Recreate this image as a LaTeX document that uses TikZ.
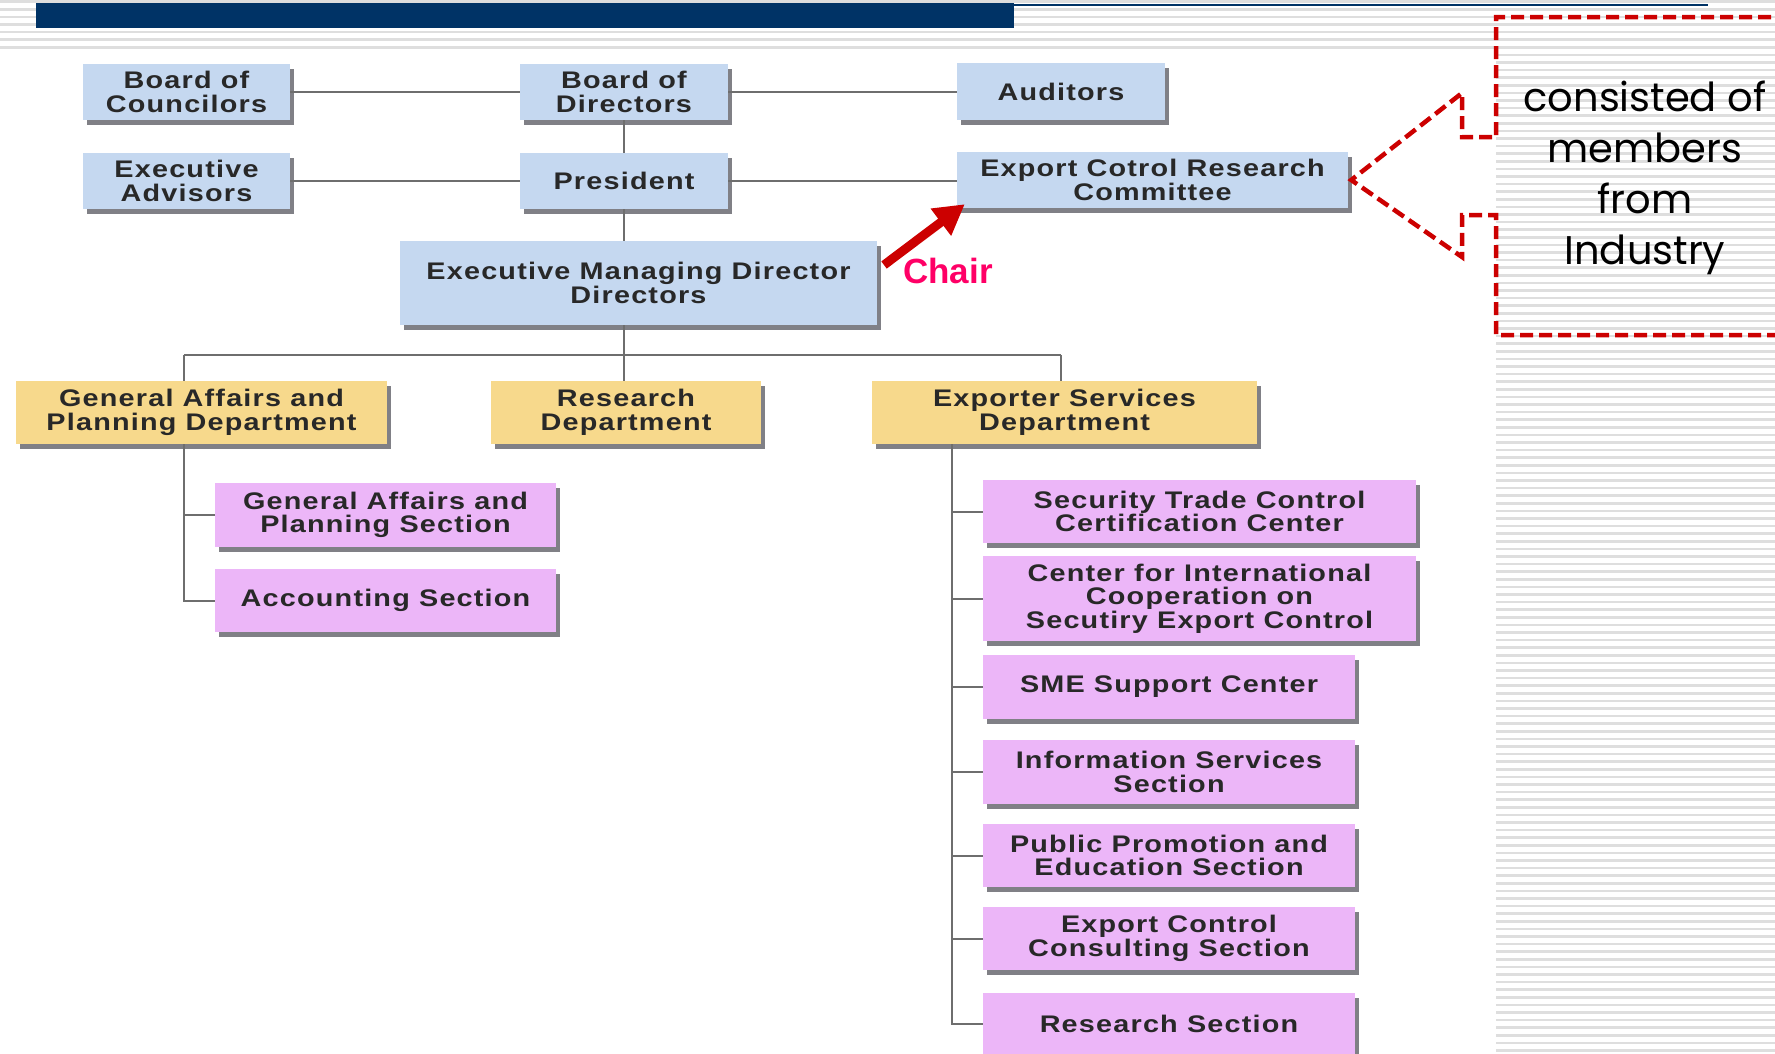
\documentclass[tikz,border=0pt]{standalone}
\usepackage{fontspec}
\setmainfont{Liberation Sans}
\newfontfamily\boxff[FakeStretch=1.2,LetterSpace=5]{Liberation Sans}
\newfontfamily\callff{Poppins}
\usetikzlibrary{arrows.meta}
\definecolor{navy}{RGB}{0,51,102}
\definecolor{boxblue}{RGB}{197,216,240}
\definecolor{boxyel}{RGB}{247,217,140}
\definecolor{boxpink}{RGB}{236,182,248}
\definecolor{shadowc}{RGB}{128,128,134}
\definecolor{linec}{RGB}{110,110,110}
\definecolor{calred}{RGB}{204,0,0}
\definecolor{chairc}{RGB}{255,0,102}
\definecolor{stripec}{RGB}{222,222,222}
\definecolor{txtc}{RGB}{40,40,40}
\tikzset{
  box/.style={inner sep=0pt, align=center, text=txtc,
    font=\boxff\bfseries\fontsize{24}{23.5}\selectfont,
    preaction={fill=shadowc, transform canvas={xshift=3.5pt,yshift=-4.5pt}}},
  bluebox/.style={box, fill=boxblue},
  yelbox/.style={box, fill=boxyel},
  pinkbox/.style={box, fill=boxpink},
  conn/.style={draw=linec, line width=2pt},
  stripe/.style={draw=stripec, line width=2.6pt},
  callout/.style={draw=calred, line width=4.5pt, dash pattern=on 13pt off 6pt},
}
\begin{document}
\begin{tikzpicture}[x=1pt,y=-1pt]
\useasboundingbox (0,0) rectangle (1775,1053);
\clip (0,0) rectangle (1775,1053);
% background stripes
\foreach \k in {0,...,6} \draw[stripe] (0,1.6+\k*7.6) -- (1775,1.6+\k*7.6);
\foreach \k in {7,...,138} \draw[stripe] (1496,1.6+\k*7.6) -- (1775,1.6+\k*7.6);
% title bar
\fill[navy] (36,3) rectangle (1014,27.5);
\draw[navy, line width=2pt] (1014,4.5) -- (1708,4.5);

% top rows
\node[bluebox, minimum width=207pt, minimum height=56pt] (boc) at (186.5,92) {Board of\\Councilors};
\node[bluebox, minimum width=208pt, minimum height=56pt] (bod) at (624,92) {Board of\\Directors};
\node[bluebox, minimum width=208pt, minimum height=57pt] (aud) at (1061,91.5) {Auditors};
\node[bluebox, minimum width=207pt, minimum height=56pt] (ea) at (186.5,181) {Executive\\Advisors};
\node[bluebox, minimum width=208pt, minimum height=56pt] (pres) at (624,181) {President};
\node[bluebox, minimum width=391pt, minimum height=56pt] (ecrc) at (1152.5,180) {Export Cotrol Research\\Committee};
\node[bluebox, minimum width=477pt, minimum height=84pt] (emd) at (638.5,283) {Executive Managing Director\\Directors};

% departments
\node[yelbox, minimum width=371pt, minimum height=63pt] (gapd) at (201.5,412.5) {General Affairs and\\Planning Department};
\node[yelbox, minimum width=270pt, minimum height=63pt] (rd) at (626,412.5) {Research\\Department};
\node[yelbox, minimum width=385pt, minimum height=63pt] (esd) at (1064.5,412.5) {Exporter Services\\Department};

% sections
\node[pinkbox, minimum width=341pt, minimum height=64pt] (gaps) at (385.5,515) {General Affairs and\\Planning Section};
\node[pinkbox, minimum width=341pt, minimum height=63pt] (acc) at (385.5,600.5) {Accounting Section};
\node[pinkbox, minimum width=433pt, minimum height=63pt] (stcc) at (1199.5,511.5) {Security Trade Control\\Certification Center};
\node[pinkbox, minimum width=433pt, minimum height=85pt] (cicsec) at (1199.5,598.5) {Center for International\\Cooperation on\\Secutiry Export Control};
\node[pinkbox, minimum width=372pt, minimum height=64pt] (sme) at (1169,687) {SME Support Center};
\node[pinkbox, minimum width=372pt, minimum height=64pt] (info) at (1169,772) {Information Services\\Section};
\node[pinkbox, minimum width=372pt, minimum height=63pt] (pub) at (1169,855.5) {Public Promotion and\\Education Section};
\node[pinkbox, minimum width=372pt, minimum height=63pt] (eccs) at (1169,938.5) {Export Control\\Consulting Section};
\node[pinkbox, minimum width=372pt, minimum height=62pt] (rs) at (1169,1024) {Research Section};

% connectors
\draw[conn] (boc.east) -- (bod.west);
\draw[conn] (bod.east) -- (bod.east -| aud.west);
\draw[conn] (ea.east) -- (pres.west);
\draw[conn] (pres.east) -- (pres.east -| ecrc.west);
\draw[conn] (bod.south) -- (pres.north);
\draw[conn] (pres.south) -- (pres.south |- emd.north);
\coordinate (hub) at (624,355);
\coordinate (jl) at (184,355);
\coordinate (jr) at (1061,355);
\draw[conn] (pres.south |- emd.south) -- (hub);
\draw[conn] (jl) -- (jr);
\draw[conn] (jl) -- (jl |- gapd.north);
\draw[conn] (hub) -- (hub |- rd.north);
\draw[conn] (jr) -- (jr |- esd.north);
% general affairs branch
\draw[conn] (jl |- gapd.south) -- (jl |- acc.west) -- (acc.west);
\draw[conn] (jl |- gaps.west) -- (gaps.west);
% exporter services branch
\coordinate (el) at (952,445);
\draw[conn] (el |- esd.south) -- (el |- rs.west) -- (rs.west);
\foreach \n in {stcc,cicsec,sme,info,pub,eccs}
  \draw[conn] (el |- \n.west) -- (\n.west);

% chair arrow
\node[anchor=west, text=chairc, font=\bfseries\fontsize{35}{40}\selectfont, inner sep=0pt] (chair) at (903,271) {Chair};
\coordinate (ast) at (884,265);
\draw[calred, line width=9pt, -{Triangle[length=30pt,width=32pt]}] (ast) -- ([shift={(8,-4)}]ecrc.south west);

% callout
\node[font=\callff\fontsize{40}{51}\selectfont, align=center, inner sep=0pt] (cons) at (1645,178) {consisted of\\members\\from\\Industry};
\coordinate (tip) at ([xshift=3pt]ecrc.east);
\draw[callout] (1790,17) -- (1496,17) -- (1496,137) -- (1462,137) -- (1462,93) -- (tip) -- (1462,257) -- (1462,215) -- (1496,215) -- (1496,335) -- (1790,335);
\end{tikzpicture}
\end{document}
